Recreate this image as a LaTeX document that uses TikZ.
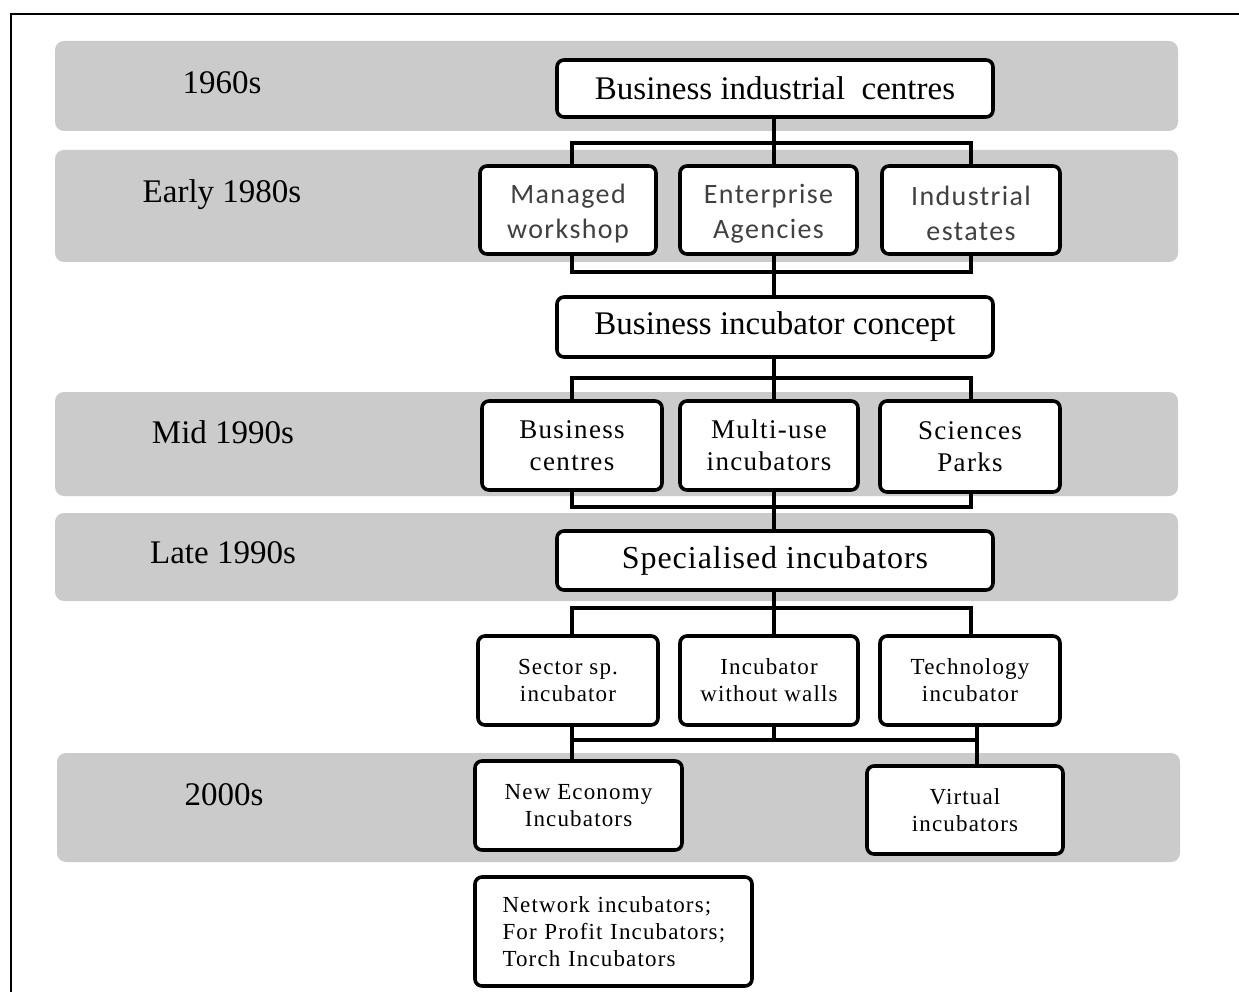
\documentclass[tikz,border=0pt]{standalone}
\usepackage{fontspec}
\setmainfont{Liberation Serif}
\newfontfamily\sansf{Carlito}[LetterSpace=5]
\newfontfamily\spaced{Liberation Serif}[LetterSpace=5]
\newfontfamily\spacedb{Liberation Serif}[LetterSpace=3]
\definecolor{band}{HTML}{CBCBCB}
\definecolor{sanstxt}{HTML}{404040}
\begin{document}
\begin{tikzpicture}[x=1pt,y=-1pt,
  bandbox/.style={fill=band,draw=none,rounded corners=9pt},
  bandlabel/.style={font=\fontsize{33}{36}\selectfont,anchor=center,inner sep=0pt},
  tbox/.style={draw=black,line width=3.6pt,rounded corners=7pt,fill=white,align=center,inner sep=0pt},
  bigbox/.style={tbox,minimum width=436pt,font=\fontsize{33}{36}\selectfont},
  sbox/.style={tbox,font=\sansf\fontsize{28}{35}\selectfont,text=sanstxt},
  mbox/.style={tbox,font=\spaced\fontsize{27}{32}\selectfont},
  lbox/.style={tbox,font=\spaced\fontsize{23}{27}\selectfont},
  conn/.style={draw=black,line width=3.6pt,line join=miter,line cap=rect}]
\useasboundingbox (0,0) rectangle (1239,992);
\fill[white] (0,0) rectangle (1239,992);
% frame
\draw[line width=2pt] (1239,14) -- (11,14) -- (11,992);
% bands
\path[bandbox] (55,41) rectangle (1178,131);
\path[bandbox] (55,150) rectangle (1178,262);
\path[bandbox] (55,392) rectangle (1178,496);
\path[bandbox] (55,513) rectangle (1178,601);
\path[bandbox] (57,753) rectangle (1180,862);
% band labels
\node[bandlabel] (l1) at (222,83) {1960s};
\node[bandlabel] (l2) at (222,195) {Early 1980s};
\node[bandlabel] (l3) at (223,432) {Mid 1990s};
\node[bandlabel] (l4) at (223,553) {Late 1990s};
\node[bandlabel] (l5) at (224,795) {2000s};
% bus x positions
\coordinate (xl) at (572,0);
\coordinate (xc) at (774,0);
\coordinate (xr) at (971,0);
% boxes
\node[bigbox,minimum height=57pt] (top) at (775,88.5) {Business industrial\ \ centres};
\node[sbox,minimum width=176pt,minimum height=88pt] (mw) at (568,210) {\rule{0pt}{26pt}Managed\\workshop};
\node[sbox,minimum width=177pt,minimum height=88pt] (ea) at (768.5,210) {\rule{0pt}{26pt}Enterprise\\Agencies};
\node[sbox,minimum width=178pt,minimum height=88pt] (ie) at (971,210) {\rule{0pt}{26pt}Industrial\\estates};
\node[bigbox,minimum height=60pt] (bic) at (775,327) {Business incubator concept};
\node[mbox,minimum width=180pt,minimum height=89pt] (bc) at (572,445.5) {Business\\centres};
\node[mbox,minimum width=178pt,minimum height=89pt] (mu) at (769,445.5) {Multi-use\\incubators};
\node[mbox,minimum width=180pt,minimum height=91pt] (sp) at (970,446.5) {Sciences\\Parks};
\node[bigbox,minimum height=59pt,font=\spacedb\fontsize{32}{35}\selectfont] (si) at (775,560.5) {Specialised incubators};
\node[lbox,minimum width=180pt,minimum height=89pt] (ss) at (568,680.5) {Sector sp.\\incubator};
\node[lbox,minimum width=178pt,minimum height=89pt] (iw) at (769,680.5) {Incubator\\without walls};
\node[lbox,minimum width=180pt,minimum height=89pt] (ti) at (970,680.5) {Technology\\incubator};
\node[lbox,minimum width=207pt,minimum height=89pt] (ne) at (578.5,805.5) {New Economy\\Incubators};
\node[lbox,minimum width=196pt,minimum height=88pt] (vi) at (965,810) {Virtual\\incubators};
\node[lbox,minimum width=277pt,minimum height=109pt,align=left,text width=222pt] (nw) at (613.5,931.5) {Network incubators;\\For Profit Incubators;\\Torch Incubators};
% connectors: 1960s -> early 1980s
\coordinate (b1) at (774,143);
\draw[conn] (top.south -| xc) -- (b1);
\draw[conn] (mw.north -| xl) -- (b1 -| xl) -- (b1 -| xr) -- (ie.north -| xr);
\draw[conn] (b1) -- (ea.north -| xc);
% early 1980s -> concept
\coordinate (b2) at (774,272);
\draw[conn] (mw.south -| xl) -- (b2 -| xl) -- (b2 -| xr) -- (ie.south -| xr);
\draw[conn] (ea.south -| xc) -- (b2);
\draw[conn] (b2) -- (bic.north -| xc);
% concept -> mid 1990s
\coordinate (b3) at (774,378);
\draw[conn] (bic.south -| xc) -- (b3);
\draw[conn] (bc.north -| xl) -- (b3 -| xl) -- (b3 -| xr) -- (sp.north -| xr);
\draw[conn] (b3) -- (mu.north -| xc);
% mid 1990s -> specialised
\coordinate (b4) at (774,507);
\draw[conn] (bc.south -| xl) -- (b4 -| xl) -- (b4 -| xr) -- (sp.south -| xr);
\draw[conn] (mu.south -| xc) -- (b4);
\draw[conn] (b4) -- (si.north -| xc);
% specialised -> late 1990s row
\coordinate (b5) at (774,608);
\draw[conn] (si.south -| xc) -- (b5);
\draw[conn] (ss.north -| xl) -- (b5 -| xl) -- (b5 -| xr) -- (ti.north -| xr);
\draw[conn] (b5) -- (iw.north -| xc);
% row -> 2000s
\coordinate (b6l) at (572,740);
\coordinate (b6r) at (977,740);
\draw[conn] (ss.south -| b6l) -- (b6l) -- (b6r) -- (ti.south -| b6r);
\draw[conn] (iw.south -| xc) -- (b6l -| xc);
\draw[conn] (b6l) -- (ne.north -| b6l);
\draw[conn] (b6r) -- (vi.north -| b6r);
\end{tikzpicture}
\end{document}
